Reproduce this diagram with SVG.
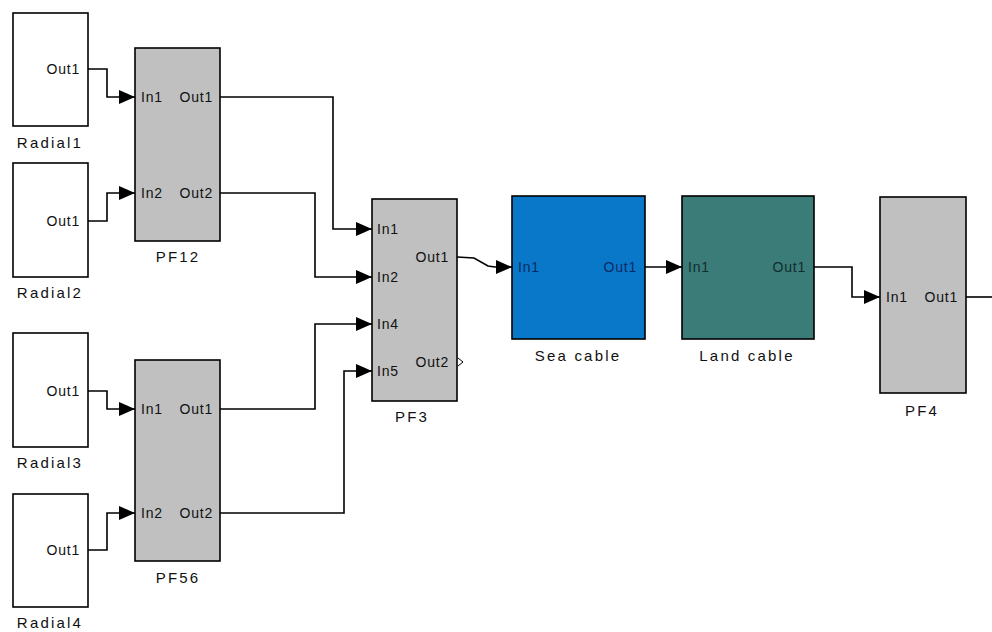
<svg xmlns="http://www.w3.org/2000/svg" width="992" height="632" viewBox="0 0 992 632">
<defs>
<marker id="arr" viewBox="0 0 16 14" refX="16" refY="7" markerWidth="16" markerHeight="14" markerUnits="userSpaceOnUse" orient="auto">
<path d="M0,0 L16,7 L0,14 z" fill="#000"/>
</marker>
<style>
.blk{stroke:#000;stroke-width:1.6}
.white{fill:#fff}
.gray{fill:#c0c0c0}
.port{font-family:"Liberation Sans",Arial,sans-serif;font-size:14px;letter-spacing:0.8px;fill:#111}
.lbl{font-family:"Liberation Sans",Arial,sans-serif;font-size:15px;letter-spacing:2.2px;fill:#111;text-anchor:middle}
.end{text-anchor:end}
.wire{fill:none;stroke:#000;stroke-width:1.6}
</style>
</defs>
<rect width="992" height="632" fill="#fff"/>
<g id="connectors">
<path class="wire" d="M88,69 H107 V97 H135" marker-end="url(#arr)"/>
<path class="wire" d="M88,221 H107 V193 H135" marker-end="url(#arr)"/>
<path class="wire" d="M88,391 H107 V409 H135" marker-end="url(#arr)"/>
<path class="wire" d="M88,550 H107 V513 H135" marker-end="url(#arr)"/>
<path class="wire" d="M220,97 H333 V229 H372" marker-end="url(#arr)"/>
<path class="wire" d="M220,193 H315 V277 H372" marker-end="url(#arr)"/>
<path class="wire" d="M220,409 H315 V324 H372" marker-end="url(#arr)"/>
<path class="wire" d="M220,513 H344 V371 H372" marker-end="url(#arr)"/>
<path class="wire" d="M457,257 L474,258 L488,266 L495,267 H512" marker-end="url(#arr)"/>
<path class="wire" d="M645,267 H682" marker-end="url(#arr)"/>
<path class="wire" d="M814,267 H852 V297 H880" marker-end="url(#arr)"/>
<path class="wire" d="M966,297 H992"/>
</g>
<g id="Radial1">
<rect class="blk white" x="13" y="13" width="75" height="113"/>
<text class="port end" x="80" y="74">Out1</text>
<text class="lbl" x="50" y="148">Radial1</text>
</g>
<g id="Radial2">
<rect class="blk white" x="13" y="163" width="75" height="114"/>
<text class="port end" x="80" y="226">Out1</text>
<text class="lbl" x="50" y="298">Radial2</text>
</g>
<g id="Radial3">
<rect class="blk white" x="13" y="333" width="75" height="114"/>
<text class="port end" x="80" y="396">Out1</text>
<text class="lbl" x="50" y="468">Radial3</text>
</g>
<g id="Radial4">
<rect class="blk white" x="13" y="494" width="75" height="113"/>
<text class="port end" x="80" y="555">Out1</text>
<text class="lbl" x="50" y="628">Radial4</text>
</g>
<g id="PF12">
<rect class="blk gray" x="135" y="48" width="85" height="193"/>
<text class="port" x="141" y="102">In1</text>
<text class="port end" x="213" y="102">Out1</text>
<text class="port" x="141" y="198">In2</text>
<text class="port end" x="213" y="198">Out2</text>
<text class="lbl" x="178" y="262">PF12</text>
</g>
<g id="PF56">
<rect class="blk gray" x="135" y="360" width="85" height="201"/>
<text class="port" x="141" y="414">In1</text>
<text class="port end" x="213" y="414">Out1</text>
<text class="port" x="141" y="518">In2</text>
<text class="port end" x="213" y="518">Out2</text>
<text class="lbl" x="178" y="583">PF56</text>
</g>
<g id="PF3">
<rect class="blk gray" x="372" y="199" width="85" height="202"/>
<text class="port" x="377" y="234">In1</text>
<text class="port" x="377" y="282">In2</text>
<text class="port" x="377" y="329">In4</text>
<text class="port" x="377" y="376">In5</text>
<text class="port end" x="449" y="262">Out1</text>
<text class="port end" x="449" y="367">Out2</text>
<path d="M458,358 L463,362 L458,366" fill="none" stroke="#000" stroke-width="1"/>
<text class="lbl" x="412" y="422">PF3</text>
</g>
<g id="SeaCable">
<rect class="blk" fill="#0a78c8" x="512" y="196" width="133" height="143"/>
<text class="port" style="fill:#0b2a66" x="518" y="272">In1</text>
<text class="port end" style="fill:#0b2a66" x="637" y="272">Out1</text>
<text class="lbl" x="578" y="361">Sea cable</text>
</g>
<g id="LandCable">
<rect class="blk" fill="#3b7b78" x="682" y="196" width="132" height="143"/>
<text class="port" style="fill:#102e2e" x="688" y="272">In1</text>
<text class="port end" style="fill:#102e2e" x="806" y="272">Out1</text>
<text class="lbl" x="747" y="361">Land cable</text>
</g>
<g id="PF4">
<rect class="blk gray" x="880" y="197" width="86" height="196"/>
<text class="port" x="886" y="302">In1</text>
<text class="port end" x="958" y="302">Out1</text>
<text class="lbl" x="922" y="416">PF4</text>
</g>
</svg>
